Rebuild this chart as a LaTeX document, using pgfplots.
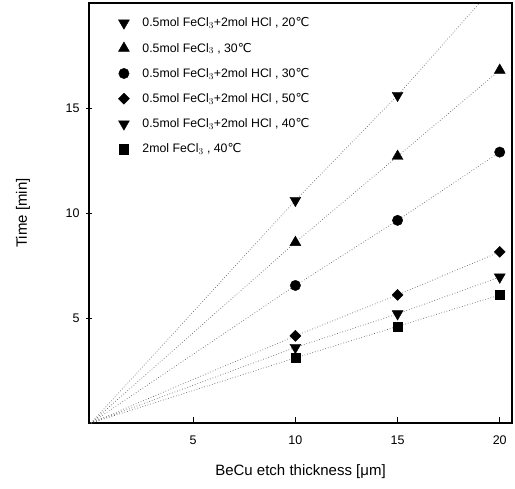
\documentclass[border=0pt]{standalone}
\usepackage{fontspec}
\setmainfont{Liberation Sans}
\newfontfamily\dejavu{DejaVu Sans}
\usepackage{pgfplots}
\pgfplotsset{compat=1.18}
\newcommand{\dC}{{\dejavu ℃}}
\begin{document}
\begin{tikzpicture}
\begin{axis}[
 scale only axis, width=423pt, height=420pt,
 xmin=-0.1, xmax=20.6, ymin=0, ymax=20,
 xtick={5,10,15,20}, ytick={5,10,15},
 xtick pos=bottom, ytick pos=left,
 /pgf/number format/assume math mode=true,
 tick label style={font=\fontsize{12.5}{14}\selectfont},
 xticklabel style={yshift=-9pt},
 yticklabel style={xshift=-3pt},
 axis line style={line width=1.3pt},
 xtick align=inside, ytick align=center,
 major tick length=6pt,
 tick style={black, line width=1pt},
 xlabel={BeCu etch thickness [μm]}, ylabel={Time [min]},
 label style={font=\fontsize{15}{18}\selectfont},
 xlabel style={at={(axis description cs:0.5,-0.115)}, anchor=center},
 ylabel style={at={(axis description cs:-0.156,0.5)}, anchor=center},
 legend style={draw=none, fill=none, at={(axis description cs:0.062,0.975)}, anchor=north west,
   font=\fontsize{12.3}{14}\selectfont, row sep=10.6pt,
   /tikz/every odd column/.append style={column sep=11pt}},
 legend cell align=left,
 legend image code/.code={\draw[#1] plot coordinates {(0.3cm,0cm)};},
 clip=true,
]
% dotted fit lines
\addplot[forget plot, black!60, dotted, line width=0.7pt] coordinates {(0,0) (10,10.6) (15,15.6) (19.2,20.2)};
\addplot[forget plot, black!60, dotted, line width=0.7pt] coordinates {(0,0) (10,8.6) (15,12.7) (20,16.8)};
\addplot[forget plot, black!60, dotted, line width=0.7pt] coordinates {(0,0) (10,6.55) (15,9.65) (20,12.9)};
\addplot[forget plot, black!60, dotted, line width=0.7pt] coordinates {(0,0) (10,4.15) (15,6.1) (20,8.15)};
\addplot[forget plot, black!60, dotted, line width=0.7pt] coordinates {(0,0) (10,3.6) (15,5.2) (20,6.95)};
\addplot[forget plot, black!60, dotted, line width=0.7pt] coordinates {(0,0) (10,3.1) (15,4.6) (20,6.1)};
% markers
\addplot[only marks, mark=triangle*, mark size=6.3pt, mark options={rotate=180, black}] coordinates {(10,10.6) (15,15.6)};
\addlegendentry{0.5mol FeCl$_3$+2mol HCl , 20\dC}
\addplot[only marks, mark=triangle*, mark size=6.3pt, mark options={black}] coordinates {(10,8.6) (15,12.7) (20,16.8)};
\addlegendentry{0.5mol FeCl$_3$ , 30\dC}
\addplot[only marks, mark=*, mark size=5.2pt, mark options={black}] coordinates {(10,6.55) (15,9.65) (20,12.9)};
\addlegendentry{0.5mol FeCl$_3$+2mol HCl , 30\dC}
\addplot[only marks, mark=square*, mark size=3.9pt, mark options={rotate=45, black}] coordinates {(10,4.15) (15,6.1) (20,8.15)};
\addlegendentry{0.5mol FeCl$_3$+2mol HCl , 50\dC}
\addplot[only marks, mark=triangle*, mark size=6.3pt, mark options={rotate=180, black}] coordinates {(10,3.6) (15,5.2) (20,6.95)};
\addlegendentry{0.5mol FeCl$_3$+2mol HCl , 40\dC}
\addplot[only marks, mark=square*, mark size=4.6pt, mark options={black}] coordinates {(10,3.1) (15,4.6) (20,6.1)};
\addlegendentry{2mol FeCl$_3$ , 40\dC}
\end{axis}
\path (current axis.south west) ++(-89pt,-65pt) (current axis.north east) ++(3pt,3pt);
\end{tikzpicture}
\end{document}
